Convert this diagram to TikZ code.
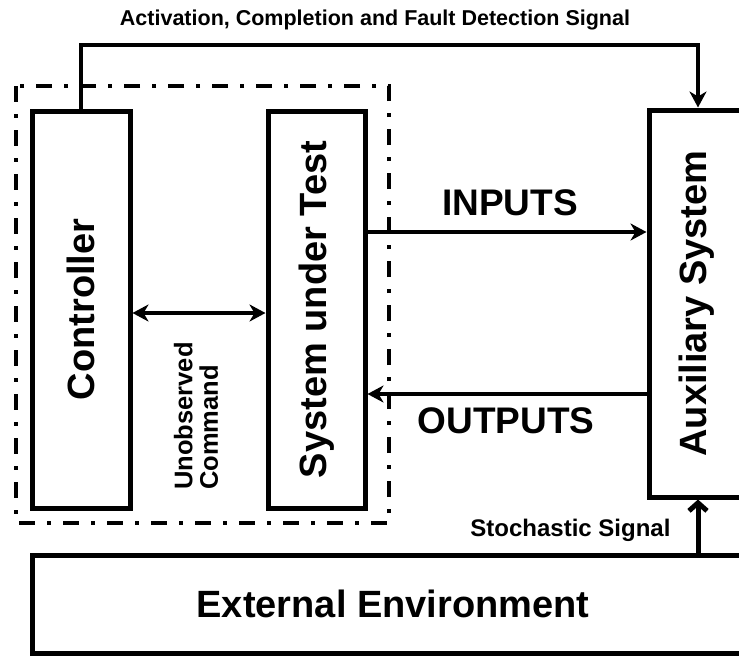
\documentclass[tikz,border=0pt]{standalone}
\usepackage{fontspec}
\setmainfont{Liberation Sans}
\usetikzlibrary{arrows.meta}

\begin{document}
\begin{tikzpicture}[x=1pt,y=-1pt,
  blk/.style={draw,line width=5pt,inner sep=0pt,font=\fontsize{38}{42}\selectfont\bfseries},
  sig/.style={line width=4pt,-{Stealth[length=16pt,width=17pt,inset=5pt]}},
  lbl/.style={font=\fontsize{37}{40}\selectfont\bfseries}]
  \def\fs#1{\fontsize{#1}{#1}\selectfont\bfseries}
  \clip (0,0) rectangle (739,657);
  \draw[line width=3.5pt,dash pattern=on 16pt off 12pt on 4pt off 12pt] (16,86) rectangle (389,523);
  \node[blk,minimum width=98pt,minimum height=397pt] (ctrl) at (81,309.5) {\rotatebox{90}{Controller}};
  \node[blk,minimum width=97pt,minimum height=397pt] (sut) at (316.5,309.5) {\rotatebox{90}{System under Test}};
  \node[blk,minimum width=96pt,minimum height=387pt] (aux) at (697,303.5) {\rotatebox{90}{Auxiliary System}};
  \node[blk,minimum width=722pt,minimum height=98pt] (env) at (393,604) {External Environment};
  \coordinate (fb) at (698,45);
  \draw[sig] (ctrl.north) |- (fb) -- (fb |- aux.north);
  \draw[sig,line width=3.5pt,{Stealth[length=16pt,width=17pt,inset=5pt]}-{Stealth[length=16pt,width=17pt,inset=5pt]}]
    (ctrl.east |- 0,313) -- (sut.west |- 0,313);
  \draw[sig] (sut.east |- 0,232) -- (aux.west |- 0,232);
  \draw[sig] (aux.west |- 0,394) -- (sut.east |- 0,394);
  \draw[line width=5pt,-{Straight Barb[length=8pt,width=18pt]}] (env.north -| fb) -- (aux.south -| fb);
  \node (ttl) at (375,20) {\fs{21.5}Activation, Completion and Fault Detection Signal};
  \node[lbl] (in) at (510,203) {INPUTS};
  \node[lbl] (out) at (506,421) {OUTPUTS};
  \node[anchor=east] (stoch) at (674,530) {\fs{24}Stochastic Signal};
  \node[rotate=90,align=left,font=\fs{25.5}] (cmd) at (196,416) {Unobserved\\Command};
\end{tikzpicture}
\end{document}
